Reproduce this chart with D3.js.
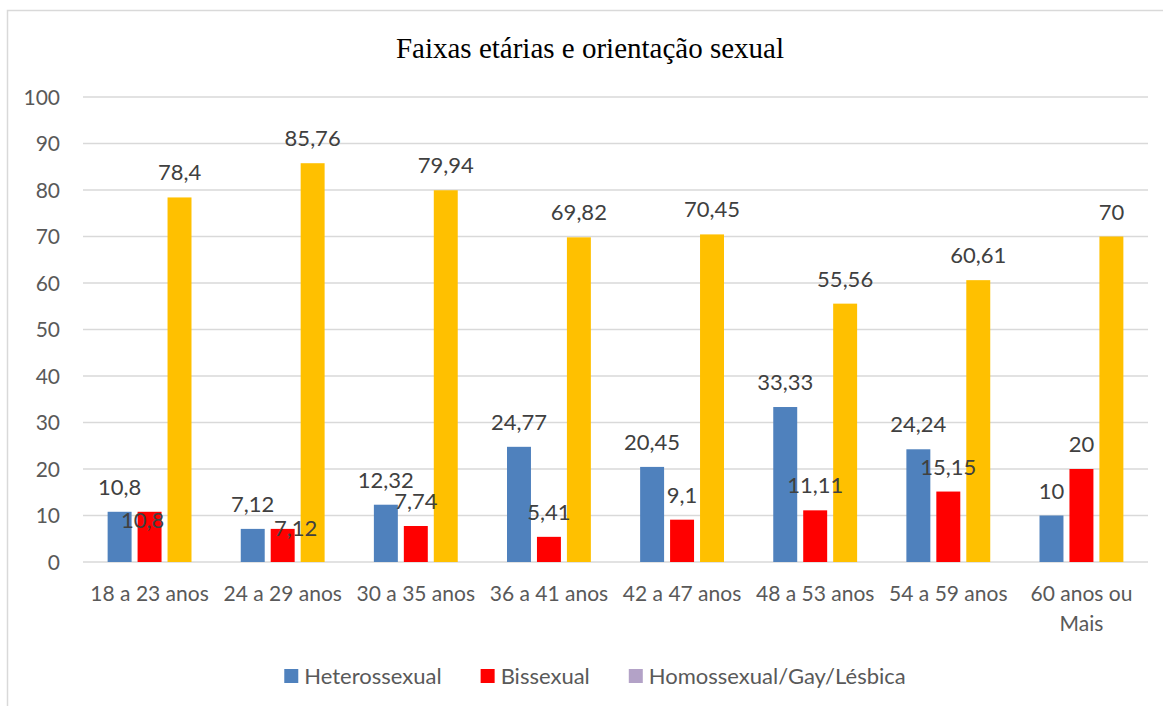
<!DOCTYPE html>
<html>
<head>
<meta charset="utf-8">
<script src="https://cdn.jsdelivr.net/npm/d3@7"></script>
<style>
  body { margin: 0; background: #fff; }
  text { font-family: Lato, "Open Sans", sans-serif; }
</style>
</head>
<body>
<div id="chart"></div>
<script>
var categories = ["18 a 23 anos", "24 a 29 anos", "30 a 35 anos", "36 a 41 anos",
  "42 a 47 anos", "48 a 53 anos", "54 a 59 anos", "60 anos ou Mais"];
var seriesNames = ["Heterossexual", "Bissexual", "Homossexual/Gay/Lésbica"];
var hetero = [10.8, 7.12, 12.32, 24.77, 20.45, 33.33, 24.24, 10];
var bi = [10.8, 7.12, 7.74, 5.41, 9.1, 11.11, 15.15, 20];
var homo = [78.4, 85.76, 79.94, 69.82, 70.45, 55.56, 60.61, 70];
var yTicks = [0, 10, 20, 30, 40, 50, 60, 70, 80, 90, 100];

// bar colours, and legend colours (the third legend swatch differs from its bars in the original)
var barColors = ["#4f81bd", "#ff0000", "#ffc000"];
var legendColors = ["#4f81bd", "#ff0000", "#b3a2c7"];

// label nudges (dx, dy) where the original moved labels to avoid overlap
var labelNudge = {"1-0": [-7, 33], "1-1": [13, 24]};

var width = 1163, height = 706;
var plotLeft = 83, plotRight = 1148, plotTop = 97, plotBottom = 562;

var svg = d3.select("#chart").append("svg")
  .attr("width", width)
  .attr("height", height);

// chart frame (cut off on right and bottom)
svg.append("rect")
  .attr("x", 7.5).attr("y", 10.5)
  .attr("width", 1300).attr("height", 900)
  .attr("fill", "none")
  .attr("stroke", "#d9d9d9")
  .attr("stroke-width", 1.5);

svg.append("text")
  .attr("x", 590).attr("y", 58)
  .attr("text-anchor", "middle")
  .style("font-family", "'Liberation Serif', 'Times New Roman', serif")
  .style("font-size", "29px")
  .attr("fill", "#000")
  .text("Faixas etárias e orientação sexual");

var y = d3.scaleLinear().domain([0, 100]).range([plotBottom, plotTop]);
var x0 = d3.scaleBand().domain(categories).range([plotLeft, plotRight])
  .paddingInner(0.37).paddingOuter(0.185);
var x1 = d3.scaleBand().domain(seriesNames).range([0, x0.bandwidth()])
  .paddingInner(0.2);

// gridlines
svg.append("g").selectAll("line")
  .data(yTicks)
  .enter().append("line")
  .attr("x1", plotLeft).attr("x2", plotRight)
  .attr("y1", function(d) { return y(d); })
  .attr("y2", function(d) { return y(d); })
  .attr("stroke", "#d9d9d9")
  .attr("stroke-width", 1.5);

// y tick labels
svg.append("g").selectAll("text")
  .data(yTicks)
  .enter().append("text")
  .attr("x", 60)
  .attr("y", function(d) { return y(d); })
  .attr("dy", "0.36em")
  .attr("text-anchor", "end")
  .style("font-size", "21px")
  .attr("fill", "#595959")
  .text(function(d) { return d; });

var allValues = [hetero, bi, homo];
var rows = [];
categories.forEach(function(c, i) {
  seriesNames.forEach(function(s, j) {
    rows.push({cat: c, ci: i, series: s, si: j, value: allValues[j][i]});
  });
});

svg.append("g").selectAll("rect")
  .data(rows)
  .enter().append("rect")
  .attr("x", function(d) { return x0(d.cat) + x1(d.series); })
  .attr("y", function(d) { return y(d.value); })
  .attr("width", x1.bandwidth())
  .attr("height", function(d) { return y(0) - y(d.value); })
  .attr("fill", function(d) { return barColors[d.si]; });

svg.append("g").selectAll("text")
  .data(rows)
  .enter().append("text")
  .attr("x", function(d) {
    var n = labelNudge[d.si + "-" + d.ci];
    return x0(d.cat) + x1(d.series) + x1.bandwidth() / 2 + (n ? n[0] : 0);
  })
  .attr("y", function(d) {
    var n = labelNudge[d.si + "-" + d.ci];
    return y(d.value) - 17 + (n ? n[1] : 0);
  })
  .attr("text-anchor", "middle")
  .style("font-size", "22px")
  .attr("fill", "#404040")
  .text(function(d) { return String(d.value).replace(".", ","); });

// category labels
var catText = svg.append("g").selectAll("text")
  .data(categories)
  .enter().append("text")
  .attr("y", 601)
  .attr("text-anchor", "middle")
  .style("font-size", "21px")
  .attr("fill", "#595959");

catText.each(function(d) {
  var t = d3.select(this);
  var lines = d === "60 anos ou Mais" ? ["60 anos ou", "Mais"] : [d];
  lines.forEach(function(l, k) {
    t.append("tspan")
      .attr("x", x0(d) + x0.bandwidth() / 2)
      .attr("dy", k === 0 ? 0 : 30)
      .text(l);
  });
});

// legend
var legend = svg.append("g");
var lx = 0, itemGap = 39;
seriesNames.forEach(function(s, j) {
  var g = legend.append("g").attr("transform", "translate(" + lx + ",0)");
  g.append("rect")
    .attr("x", 0).attr("y", -7)
    .attr("width", 14).attr("height", 14)
    .attr("fill", legendColors[j]);
  var t = g.append("text")
    .attr("x", 20).attr("y", 0)
    .attr("dy", "0.35em")
    .style("font-size", "22px")
    .attr("fill", "#595959")
    .text(s);
  lx += 20 + t.node().getComputedTextLength() + itemGap;
});
var legendWidth = lx - itemGap;
legend.attr("transform", "translate(" + (595 - legendWidth / 2) + ",676)");
</script>
</body>
</html>
